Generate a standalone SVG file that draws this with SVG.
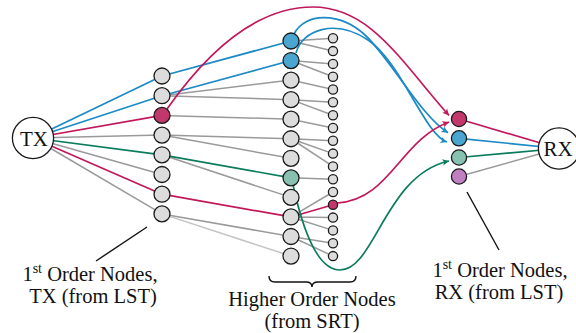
<svg xmlns="http://www.w3.org/2000/svg" width="576" height="333" viewBox="0 0 576 333">
<style>
.g{stroke:#9a9a9a;stroke-width:1.5;fill:none}
.lg{stroke:#c4c4c4;stroke-width:1.5;fill:none}
.r{stroke:#c2185b;stroke-width:1.7;fill:none}
.b{stroke:#1b8ac6;stroke-width:1.7;fill:none}
.gr{stroke:#0a7c5c;stroke-width:1.7;fill:none}
.k{stroke:#111;stroke-width:1.4;fill:none}
.n{fill:#dcdcdc;stroke:#1a1a1a;stroke-width:1.3}
.nr{fill:#c2386c;stroke:#1a1a1a;stroke-width:1.3}
.nb{fill:#4aa6d0;stroke:#1a1a1a;stroke-width:1.3}
.ng{fill:#88c1b0;stroke:#1a1a1a;stroke-width:1.3}
.np{fill:#c07fc0;stroke:#1a1a1a;stroke-width:1.3}
.big{fill:#fff;stroke:#1a1a1a;stroke-width:1.3}
text{font-family:"Liberation Serif","Times New Roman",serif;fill:#111}
.t{font-size:21px}
.l{font-size:20.5px}
</style>
<defs>
<marker id="ar" viewBox="-7 -4 8 8" refX="0" refY="0" markerWidth="8" markerHeight="8" markerUnits="userSpaceOnUse" orient="auto"><path d="M0,0 L-6.5,-3.2 L-5,0 L-6.5,3.2 z" fill="#c2185b"/></marker>
<marker id="ab" viewBox="-7 -4 8 8" refX="0" refY="0" markerWidth="8" markerHeight="8" markerUnits="userSpaceOnUse" orient="auto"><path d="M0,0 L-6.5,-3.2 L-5,0 L-6.5,3.2 z" fill="#1b8ac6"/></marker>
<marker id="ag" viewBox="-7 -4 8 8" refX="0" refY="0" markerWidth="8" markerHeight="8" markerUnits="userSpaceOnUse" orient="auto"><path d="M0,0 L-6.5,-3.2 L-5,0 L-6.5,3.2 z" fill="#0a7c5c"/></marker>
</defs>
<g id="connectors">
<line class="b" x1="33" y1="138" x2="162" y2="76"/>
<line class="b" x1="33" y1="138" x2="162" y2="95.7"/>
<line class="r" x1="33" y1="138" x2="162" y2="115.4"/>
<line class="g" x1="33" y1="138" x2="162" y2="135.1"/>
<line class="gr" x1="33" y1="138" x2="162" y2="154.8"/>
<line class="g" x1="33" y1="138" x2="162" y2="174.5"/>
<line class="r" x1="33" y1="138" x2="162" y2="194.2"/>
<line class="g" x1="33" y1="138" x2="162" y2="213.9"/>
<line class="g" x1="162" y1="95.7" x2="291" y2="80.1"/>
<line class="g" x1="162" y1="95.7" x2="291" y2="99.65"/>
<line class="g" x1="162" y1="115.4" x2="291" y2="119.2"/>
<line class="g" x1="162" y1="135.1" x2="291" y2="138.75"/>
<line class="g" x1="162" y1="135.1" x2="291" y2="158.3"/>
<line class="g" x1="162" y1="154.8" x2="291" y2="197.4"/>
<line class="g" x1="162" y1="213.9" x2="291" y2="236.5"/>
<line class="lg" x1="162" y1="213.9" x2="291" y2="256.05"/>
<line class="b" x1="162" y1="76" x2="291" y2="41"/>
<line class="b" x1="162" y1="95.7" x2="291" y2="60.55"/>
<line class="gr" x1="162" y1="154.8" x2="291" y2="177.85"/>
<line class="r" x1="162" y1="194.2" x2="291" y2="216.95"/>
<line class="g" x1="291" y1="41" x2="333" y2="38.3"/>
<line class="g" x1="291" y1="41" x2="333" y2="51.1"/>
<line class="g" x1="291" y1="60.55" x2="333" y2="63.9"/>
<line class="g" x1="291" y1="60.55" x2="333" y2="76.7"/>
<line class="g" x1="291" y1="80.1" x2="333" y2="89.5"/>
<line class="g" x1="291" y1="99.65" x2="333" y2="102.3"/>
<line class="g" x1="291" y1="99.65" x2="333" y2="115.2"/>
<line class="g" x1="291" y1="119.2" x2="333" y2="128"/>
<line class="g" x1="291" y1="138.75" x2="333" y2="140.8"/>
<line class="g" x1="291" y1="138.75" x2="333" y2="153.6"/>
<line class="g" x1="291" y1="138.75" x2="333" y2="166.4"/>
<line class="g" x1="291" y1="177.85" x2="333" y2="179.2"/>
<line class="g" x1="291" y1="216.95" x2="333" y2="192"/>
<line class="g" x1="291" y1="216.95" x2="333" y2="217.6"/>
<line class="g" x1="291" y1="216.95" x2="333" y2="230.4"/>
<line class="g" x1="291" y1="236.5" x2="333" y2="243.2"/>
<line class="g" x1="291" y1="236.5" x2="333" y2="256.1"/>
<line class="r" x1="291" y1="216.95" x2="333" y2="204.8"/>
<path class="r" d="M167,109 C205,55 255,7 313,7 C370,7 400,60 449,115.5" marker-end="url(#ar)"/>
<path class="b" d="M294,34 C305,12 340,12 365,35 C390,58 420,115 448,132.7" marker-end="url(#ab)"/>
<path class="b" d="M296,53 C302,30 335,18 368,40 C401,62 425,135 447,142" marker-end="url(#ab)"/>
<path class="r" d="M337,203 C390,200 400,140 449,122" marker-end="url(#ar)"/>
<path class="gr" d="M293,185 C305,240 320,270 340,270 C375,270 385,175 449,161" marker-end="url(#ag)"/>
<line class="r" x1="459" y1="119" x2="559" y2="148.5"/>
<line class="b" x1="459" y1="138.3" x2="559" y2="148.5"/>
<line class="gr" x1="459" y1="157.5" x2="559" y2="148.5"/>
<line class="g" x1="459" y1="176.5" x2="559" y2="148.5"/>
<line class="k" x1="147" y1="227" x2="96" y2="261"/>
<line class="k" x1="467" y1="192" x2="499" y2="250"/>
<path class="k" d="M269,276 Q269,282 275,282 L306,282 Q312,282 312,287 Q312,282 318,282 L350,282 Q356,282 356,276"/>
</g>
<g id="TX"><circle class="big" cx="33" cy="138" r="20.6"/><text class="t" x="34" y="145.5" text-anchor="middle">TX</text></g>
<g id="RX"><circle class="big" cx="559" cy="148.5" r="20.6"/><text class="t" x="558" y="156" text-anchor="middle">RX</text></g>
<g id="tx-first-order">
<circle class="n" cx="162" cy="76" r="8"/>
<circle class="n" cx="162" cy="95.7" r="8"/>
<circle class="nr" cx="162" cy="115.4" r="8"/>
<circle class="n" cx="162" cy="135.1" r="8"/>
<circle class="n" cx="162" cy="154.8" r="8"/>
<circle class="n" cx="162" cy="174.5" r="8"/>
<circle class="n" cx="162" cy="194.2" r="8"/>
<circle class="n" cx="162" cy="213.9" r="8"/>
</g>
<g id="higher-order-a">
<circle class="nb" cx="291" cy="41" r="8"/>
<circle class="nb" cx="291" cy="60.55" r="8"/>
<circle class="n" cx="291" cy="80.1" r="8"/>
<circle class="n" cx="291" cy="99.65" r="8"/>
<circle class="n" cx="291" cy="119.2" r="8"/>
<circle class="n" cx="291" cy="138.75" r="8"/>
<circle class="n" cx="291" cy="158.3" r="8"/>
<circle class="ng" cx="291" cy="177.85" r="8"/>
<circle class="n" cx="291" cy="197.4" r="8"/>
<circle class="n" cx="291" cy="216.95" r="8"/>
<circle class="n" cx="291" cy="236.5" r="8"/>
<circle class="n" cx="291" cy="256.05" r="8"/>
</g>
<g id="higher-order-b">
<circle class="n" cx="333" cy="38.3" r="4.6"/>
<circle class="n" cx="333" cy="51.1" r="4.6"/>
<circle class="n" cx="333" cy="63.9" r="4.6"/>
<circle class="n" cx="333" cy="76.7" r="4.6"/>
<circle class="n" cx="333" cy="89.5" r="4.6"/>
<circle class="n" cx="333" cy="102.3" r="4.6"/>
<circle class="n" cx="333" cy="115.2" r="4.6"/>
<circle class="n" cx="333" cy="128" r="4.6"/>
<circle class="n" cx="333" cy="140.8" r="4.6"/>
<circle class="n" cx="333" cy="153.6" r="4.6"/>
<circle class="n" cx="333" cy="166.4" r="4.6"/>
<circle class="n" cx="333" cy="179.2" r="4.6"/>
<circle class="n" cx="333" cy="192" r="4.6"/>
<circle class="nr" cx="333" cy="204.8" r="4.6"/>
<circle class="n" cx="333" cy="217.6" r="4.6"/>
<circle class="n" cx="333" cy="230.4" r="4.6"/>
<circle class="n" cx="333" cy="243.2" r="4.6"/>
<circle class="n" cx="333" cy="256.1" r="4.6"/>
</g>
<g id="rx-first-order">
<circle class="nr" cx="459" cy="119" r="7.6"/>
<circle class="nb" cx="459" cy="138.3" r="7.6"/>
<circle class="ng" cx="459" cy="157.5" r="7.6"/>
<circle class="np" cx="459" cy="176.5" r="7.6"/>
</g>
<g id="labels">
<text class="l" x="90" y="281" text-anchor="middle">1<tspan font-size="14" dy="-8">st</tspan><tspan dy="8"> Order Nodes,</tspan></text>
<text class="l" x="93" y="303" text-anchor="middle">TX (from LST)</text>
<text class="l" x="312" y="306" text-anchor="middle">Higher Order Nodes</text>
<text class="l" x="312" y="328" text-anchor="middle">(from SRT)</text>
<text class="l" x="500" y="277" text-anchor="middle">1<tspan font-size="14" dy="-8">st</tspan><tspan dy="8"> Order Nodes,</tspan></text>
<text class="l" x="499" y="299" text-anchor="middle">RX (from LST)</text>
</g>
</svg>
